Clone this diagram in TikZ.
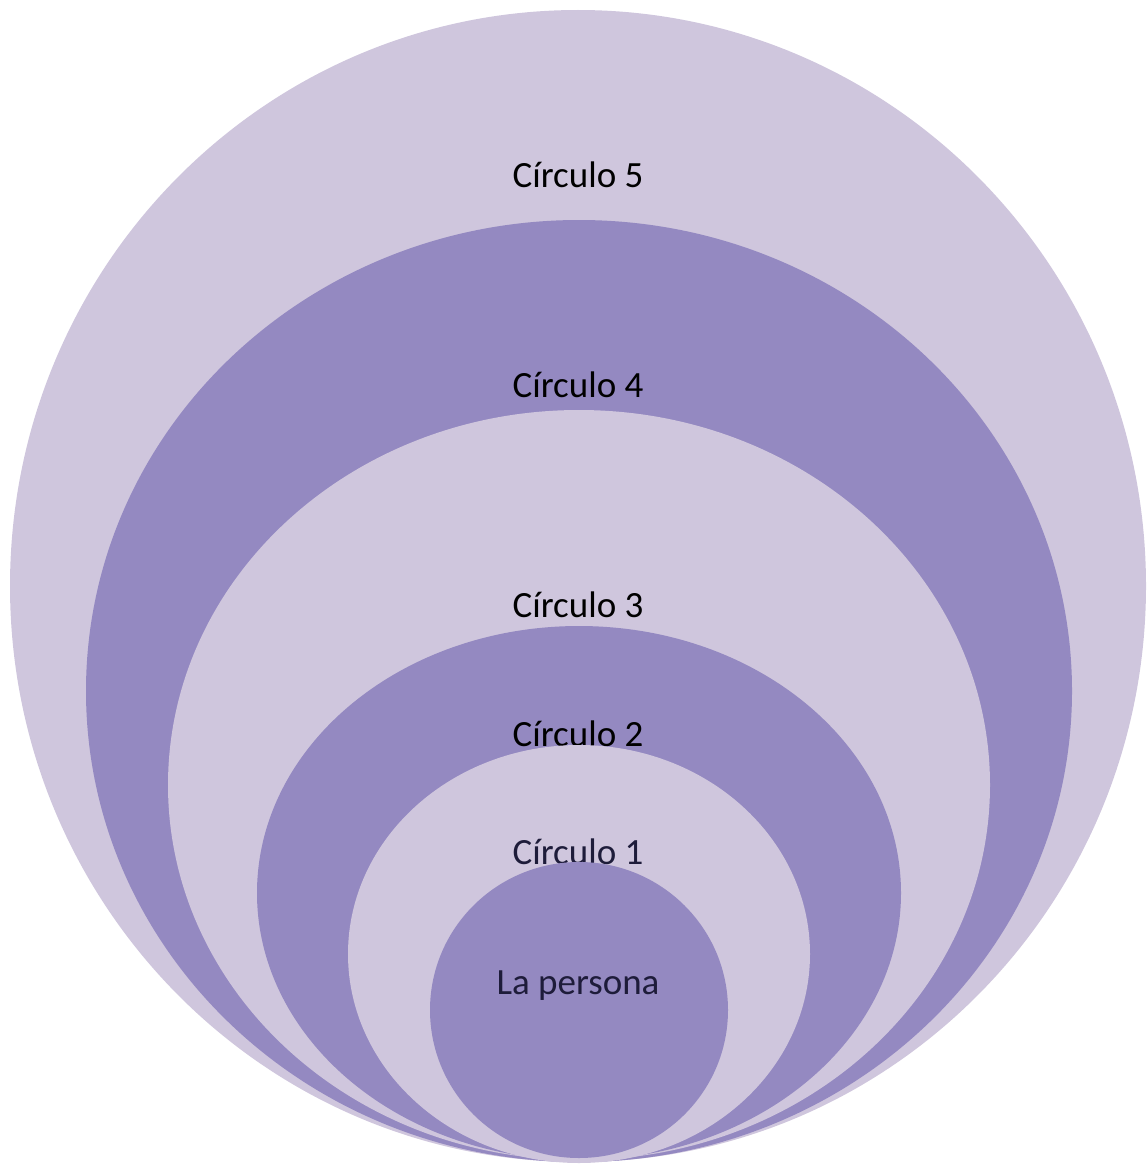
\documentclass[tikz,border=0pt]{standalone}
\usepackage{fontspec}
\setmainfont{Carlito}
\usepackage{xcolor}
\usepackage{tikz}
\usetikzlibrary{positioning}

\definecolor{ringlight}{RGB}{207,198,221}
\definecolor{ringdark}{RGB}{148,137,193}
\definecolor{inktext}{RGB}{30,28,58}

\tikzset{
  ringlabel/.style={anchor=base,inner sep=0pt,font=\fontsize{37}{44}\selectfont},
}

\begin{document}
\begin{tikzpicture}[x=1pt,y=-1pt]
    \useasboundingbox (0,0) rectangle (1146,1164);
    % outermost ring and its label
    \fill[ringlight] (578,586) ellipse [x radius=568,y radius=576];
    \node[ringlabel] (C5) at (578,187) {Círculo 5};
    \fill[ringdark] (579,691) ellipse [x radius=493,y radius=471];
    \node[ringlabel] (C4) at (578,397) {Círculo 4};
    \fill[ringlight] (579,785) ellipse [x radius=411,y radius=375];
    \node[ringlabel] (C3) at (578,617) {Círculo 3};
    \fill[ringdark] (579,893) ellipse [x radius=322,y radius=267];
    \node[ringlabel] (C2) at (578,746) {Círculo 2};
    \fill[ringlight] (579,954) ellipse [x radius=231,y radius=209];
    \node[ringlabel,text=inktext] (C1) at (578,864) {Círculo 1};
    % the person in the middle
    \fill[ringdark] (579,1010) ellipse [x radius=149,y radius=148];
    \node[ringlabel,text=inktext] (P) at (578,994) {La persona};
  \end{tikzpicture}
\end{document}
